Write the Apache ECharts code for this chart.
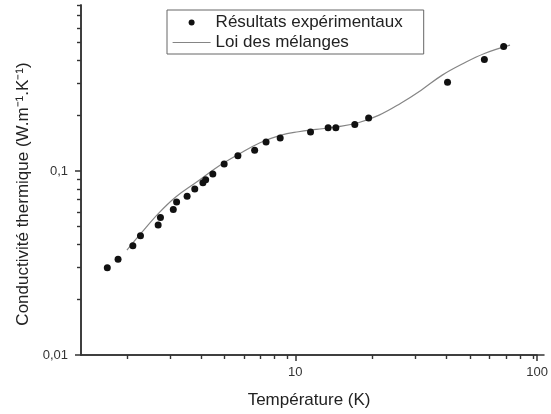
<!DOCTYPE html>
<html><head><meta charset="utf-8">
<script src="https://cdn.jsdelivr.net/npm/echarts@6/dist/echarts.min.js"></script>
<style>html,body{margin:0;padding:0;background:#fff}#c{width:551px;height:414px}</style>
</head><body><div id="c"></div>
<script>
// Experimental results
const expT = [1.67, 1.85, 2.13, 2.29, 2.71, 2.77, 3.13, 3.23, 3.57, 3.84, 4.15, 4.26, 4.56, 5.08, 5.79, 6.79, 7.57, 8.66, 11.56, 13.67, 14.71, 17.62, 20.1, 42.6, 60.5, 72.7];
const expK = [0.0298, 0.0332, 0.0393, 0.0445, 0.0509, 0.0560, 0.0619, 0.0679, 0.0729, 0.0798, 0.0864, 0.0897, 0.0963, 0.1092, 0.1211, 0.1300, 0.1438, 0.1511, 0.1629, 0.1719, 0.1719, 0.1794, 0.1941, 0.3045, 0.4047, 0.4757];
// Mixing law curve
const mixT = [2.0, 2.28, 2.69, 3.17, 3.86, 4.69, 5.72, 6.97, 8.49, 10.0, 11.8, 14.4, 17.5, 21.3, 26.0, 31.6, 38.5, 46.9, 57.2, 72.7];
const mixK = [0.0372, 0.0458, 0.0589, 0.0725, 0.0875, 0.1056, 0.1237, 0.1426, 0.1569, 0.1636, 0.1684, 0.1741, 0.1831, 0.2015, 0.2332, 0.2755, 0.3325, 0.3847, 0.436, 0.484];
// Axis ticks
const xMajorTicks = [10, 100];
const xMinorTicks = [2, 3, 4, 5, 6, 7, 8, 9, 20, 30, 40, 50, 60, 70, 80, 90];
const yMajorTicks = [0.01, 0.1];
const yMinorTicks = [0.02, 0.03, 0.04, 0.05, 0.06, 0.07, 0.08, 0.09, 0.2, 0.3, 0.4, 0.5, 0.6, 0.7, 0.8];
const xRange = [1.3, 100];
const yRange = [0.01, 0.8];

const FONT = '"Liberation Sans", Arial, sans-serif';
const AX = '#333333';
const fmt = v => String(Number(Number(v).toPrecision(3))).replace('.', ',');

const chart = echarts.init(document.getElementById('c'), null, {renderer: 'canvas'});
const gridBox = {left: 81, right: 7, top: 5, bottom: 59};
chart.setOption({
  animation: false,
  backgroundColor: '#ffffff',
  textStyle: {fontFamily: FONT},
  grid: [Object.assign({}, gridBox), Object.assign({}, gridBox)],
  legend: {
    orient: 'vertical', left: 167, top: 10,
    padding: [4, 21, 3, 5],
    itemWidth: 38, itemHeight: 6, itemGap: 3,
    borderColor: '#666', borderWidth: 1,
    textStyle: {fontFamily: FONT, fontSize: 17, color: '#222'},
    data: [
      {name: 'Résultats expérimentaux', icon: 'circle', itemStyle: {color: '#111', opacity: 1}},
      {name: 'Loi des mélanges', itemStyle: {opacity: 0}, lineStyle: {color: '#858585', width: 1.2}}
    ]
  },
  xAxis: [{
    type: 'log', gridIndex: 0, min: xRange[0], max: xRange[1],
    name: 'Température (K)', nameLocation: 'middle', nameGap: 37,
    nameTextStyle: {fontFamily: FONT, fontSize: 17, color: '#222'},
    axisLine: {show: true, lineStyle: {color: AX, width: 1.5}},
    axisTick: {show: true, length: 6, lineStyle: {color: AX, width: 1.5}, customValues: xMajorTicks},
    axisLabel: {show: true, margin: 11, fontSize: 13, color: '#333', fontFamily: FONT, customValues: xMajorTicks, formatter: fmt},
    splitLine: {show: false}
  }, {
    type: 'log', gridIndex: 1, min: xRange[0], max: xRange[1],
    axisLine: {show: true, lineStyle: {color: AX, width: 1.5}},
    axisTick: {show: true, length: 4, lineStyle: {color: AX, width: 1.4}, customValues: xMinorTicks},
    axisLabel: {show: false},
    splitLine: {show: false}
  }],
  yAxis: [{
    type: 'log', gridIndex: 0, min: yRange[0], max: yRange[1],
    name: 'Conductivité thermique (W.m⁻¹.K⁻¹)', nameLocation: 'middle', nameGap: 45,
    nameTextStyle: {fontFamily: FONT, fontSize: 17, color: '#222', padding: [0, 28, 0, 0]},
    axisLine: {show: true, lineStyle: {color: AX, width: 1.5}},
    axisTick: {show: true, length: 6, lineStyle: {color: AX, width: 1.5}, customValues: yMajorTicks},
    axisLabel: {show: true, margin: 13, fontSize: 13, color: '#333', fontFamily: FONT, customValues: yMajorTicks, formatter: fmt},
    splitLine: {show: false}
  }, {
    type: 'log', gridIndex: 1, min: yRange[0], max: yRange[1],
    axisLine: {show: true, lineStyle: {color: AX, width: 1.5}},
    axisTick: {show: true, length: 4, lineStyle: {color: AX, width: 1.4}, customValues: yMinorTicks},
    axisLabel: {show: false},
    splitLine: {show: false}
  }],
  series: [{
    name: 'Résultats expérimentaux', type: 'scatter', xAxisIndex: 0, yAxisIndex: 0,
    symbol: 'circle', symbolSize: 7,
    itemStyle: {color: '#111', opacity: 1},
    data: expT.map((t, i) => [t, expK[i]]),
    z: 3
  }, {
    name: 'Loi des mélanges', type: 'line', xAxisIndex: 1, yAxisIndex: 1,
    smooth: 0.4, showSymbol: false, symbol: 'none',
    lineStyle: {color: '#858585', width: 1.2},
    itemStyle: {color: '#858585'},
    data: mixT.map((t, i) => [t, mixK[i]]),
    z: 2
  }]
});
</script>
</body></html>
